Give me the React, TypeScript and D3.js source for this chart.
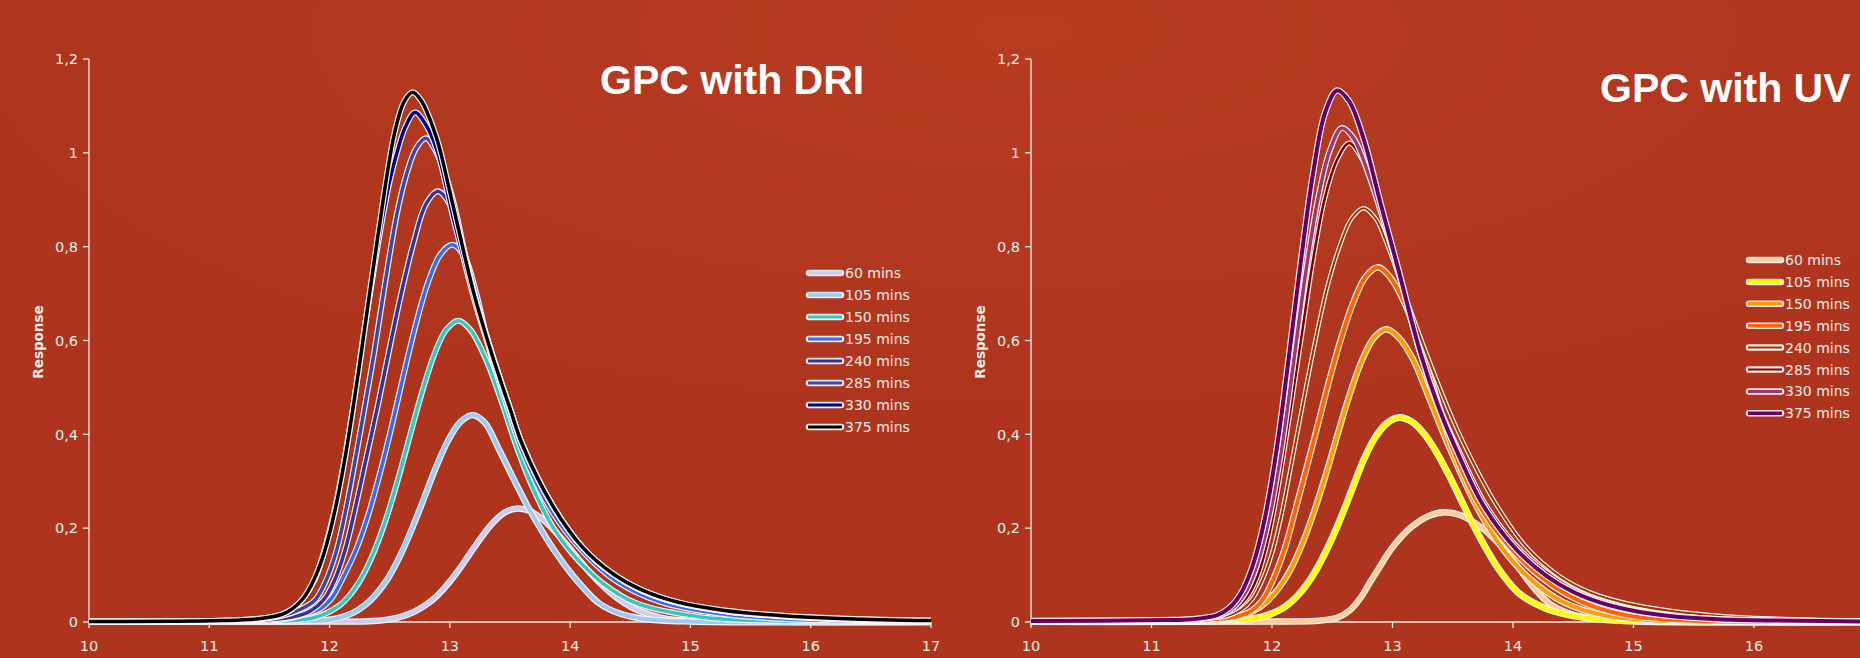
import * as React from 'react';
import * as d3 from 'd3';

type Pt = [number, number];

// retention time (min) vs detector response
const xTicks = [10, 11, 12, 13, 14, 15, 16, 17];
const yTicks = [0, 0.2, 0.4, 0.6, 0.8, 1, 1.2];
const yTickLabels = ['0', '0,2', '0,4', '0,6', '0,8', '1', '1,2'];
const sampleLabels = ['60 mins', '105 mins', '150 mins', '195 mins', '240 mins', '285 mins', '330 mins', '375 mins'];

// DRI panel
const dri60: Pt[] = [[10, .001], [12, .001], [12.36, .002], [12.56, .009], [12.66, .017], [12.76, .03], [12.86, .048], [12.96, .074], [13.06, .106], [13.16, .143], [13.26, .18], [13.36, .212], [13.46, .234], [13.56, .242], [13.66, .237], [13.76, .221], [13.86, .197], [13.96, .168], [14.06, .137], [14.16, .107], [14.26, .08], [14.36, .057], [14.46, .039], [14.56, .025], [14.76, .009], [14.96, .003], [15.2, .001], [17, 0]];
const dri105: Pt[] = [[10, .001], [11.5, .001], [11.8, .002], [12.0, .005], [12.19, .019], [12.29, .035], [12.39, .06], [12.49, .095], [12.59, .143], [12.69, .202], [12.79, .267], [12.89, .333], [12.99, .389], [13.09, .427], [13.19, .441], [13.29, .425], [13.41, .367], [13.53, .305], [13.65, .245], [13.77, .192], [13.88, .148], [14.0, .106], [14.12, .07], [14.24, .04], [14.4, .019], [14.6, .007], [15.0, .001], [17, 0]];
const dri150: Pt[] = [[10, .001], [11.3, .001], [11.6, .002], [11.87, .009], [12.07, .033], [12.17, .058], [12.27, .096], [12.37, .15], [12.47, .22], [12.57, .305], [12.67, .399], [12.77, .491], [12.87, .57], [12.97, .623], [13.07, .642], [13.17, .623], [13.3, .56], [13.43, .47], [13.56, .37], [13.7, .28], [13.85, .205], [14.02, .145], [14.27, .083], [14.55, .04], [15.1, .01], [15.6, .003], [17, 0]];
const dri195: Pt[] = [[10, .001], [11.1, .002], [11.57, .004], [11.77, .014], [11.92, .028], [12.02, .052], [12.12, .099], [12.22, .154], [12.32, .227], [12.42, .318], [12.52, .421], [12.62, .532], [12.72, .637], [12.82, .725], [12.92, .783], [13.02, .804], [13.12, .78], [13.22, .70], [13.34, .57], [13.5, .44], [13.6, .365], [13.85, .235], [14.1, .152], [14.38, .088], [14.75, .043], [15.3, .016], [16, .004], [17, .001]];
const dri240: Pt[] = [[10, .001], [11.1, .002], [11.5, .005], [11.7, .011], [11.83, .022], [11.95, .047], [12.04, .088], [12.13, .154], [12.22, .25], [12.31, .355], [12.4, .46], [12.5, .585], [12.6, .705], [12.7, .81], [12.8, .89], [12.9, .918], [13.0, .89], [13.1, .81], [13.2, .70], [13.35, .572], [13.5, .455], [13.6, .38], [13.85, .25], [14.1, .16], [14.35, .103], [14.6, .066], [14.9, .04], [15.3, .022], [15.74, .012], [16.3, .005], [17, .002]];
const dri285: Pt[] = [[10, .001], [11.1, .002], [11.45, .006], [11.62, .014], [11.75, .026], [11.88, .047], [11.97, .088], [12.06, .154], [12.14, .245], [12.22, .355], [12.3, .47], [12.37, .573], [12.46, .72], [12.56, .87], [12.64, .955], [12.72, 1.01], [12.8, 1.031], [12.88, 1.005], [12.96, .955], [13.04, .885], [13.12, .79], [13.2, .705], [13.35, .572], [13.5, .455], [13.6, .38], [13.85, .25], [14.1, .16], [14.35, .103], [14.6, .067], [14.9, .041], [15.3, .023], [15.74, .013], [16.3, .006], [17, .003]];
const dri330: Pt[] = [[10, .001], [11.1, .003], [11.4, .006], [11.58, .014], [11.68, .026], [11.78, .05], [11.88, .092], [11.97, .165], [12.06, .26], [12.17, .416], [12.3, .641], [12.38, .77], [12.45, .875], [12.5, .94], [12.56, 1.0], [12.63, 1.055], [12.71, 1.086], [12.8, 1.06], [12.9, 1.0], [13.02, .87], [13.1, .79], [13.2, .69], [13.35, .565], [13.5, .452], [13.6, .378], [13.85, .249], [14.1, .16], [14.35, .103], [14.6, .067], [14.9, .041], [15.3, .023], [15.74, .013], [16.3, .006], [17, .003]];
const dri375: Pt[] = [[10, .001], [11.1, .003], [11.41, .007], [11.6, .016], [11.69, .028], [11.78, .05], [11.87, .09], [11.96, .152], [12.05, .244], [12.14, .367], [12.25, .55], [12.4, .82], [12.54, 1.042], [12.62, 1.109], [12.69, 1.129], [12.76, 1.112], [12.89, 1.031], [13.0, .917], [13.1, .806], [13.2, .70], [13.35, .57], [13.5, .455], [13.6, .38], [13.85, .25], [14.1, .16], [14.35, .104], [14.6, .068], [14.9, .042], [15.3, .024], [15.74, .014], [16.3, .007], [17, .003]];

// UV panel
const uv60: Pt[] = [[10, .001], [12, .001], [12.4, .003], [12.55, .01], [12.65, .026], [12.73, .05], [12.81, .083], [12.9, .12], [12.98, .152], [13.06, .178], [13.16, .203], [13.3, .226], [13.43, .234], [13.56, .228], [13.73, .203], [13.84, .178], [13.93, .154], [14.02, .125], [14.12, .09], [14.21, .062], [14.3, .04], [14.45, .02], [14.6, .01], [14.9, .003], [15.3, .001], [17, 0]];
const uv105: Pt[] = [[10, .001], [11.3, .001], [11.6, .003], [11.9, .01], [12.06, .025], [12.16, .043], [12.26, .07], [12.36, .108], [12.46, .157], [12.56, .215], [12.66, .28], [12.76, .345], [12.86, .395], [12.96, .425], [13.06, .436], [13.16, .427], [13.26, .402], [13.36, .364], [13.46, .317], [13.56, .265], [13.66, .212], [13.76, .164], [13.86, .121], [13.96, .086], [14.06, .059], [14.26, .03], [14.46, .015], [14.7, .006], [15.1, .001], [17, 0]];
const uv150: Pt[] = [[10, .001], [11.1, .002], [11.4, .003], [11.65, .0064], [11.85, .024], [11.95, .042], [12.05, .07], [12.15, .11], [12.25, .166], [12.35, .236], [12.45, .317], [12.55, .405], [12.65, .489], [12.75, .56], [12.85, .607], [12.95, .624], [13.05, .607], [13.17, .56], [13.3, .48], [13.48, .367], [13.7, .245], [13.92, .154], [14.15, .09], [14.42, .042], [14.78, .013], [15.2, .003], [15.8, .001], [17, 0]];
const uv195: Pt[] = [[10, .001], [11.1, .003], [11.45, .005], [11.7, .011], [11.83, .024], [11.93, .05], [12.02, .097], [12.11, .16], [12.19, .235], [12.28, .322], [12.38, .42], [12.48, .52], [12.58, .61], [12.68, .685], [12.78, .737], [12.88, .756], [12.98, .735], [13.1, .68], [13.25, .575], [13.38, .465], [13.5, .37], [13.74, .24], [14.0, .152], [14.22, .098], [14.45, .058], [14.7, .03], [14.95, .014], [15.3, .005], [15.8, .001], [17, 0]];
const uv240: Pt[] = [[10, .002], [11.1, .004], [11.4, .006], [11.62, .012], [11.74, .025], [11.84, .05], [11.93, .095], [12.01, .155], [12.08, .23], [12.16, .335], [12.26, .47], [12.36, .60], [12.46, .715], [12.56, .80], [12.66, .86], [12.76, .882], [12.86, .86], [12.94, .815], [13.02, .76], [13.17, .65], [13.33, .54], [13.47, .45], [13.62, .365], [13.85, .255], [14.11, .16], [14.39, .097], [14.65, .062], [14.94, .04], [15.3, .024], [15.72, .013], [16.3, .006], [17, .003]];
const uv285: Pt[] = [[10, .002], [11.1, .004], [11.35, .006], [11.55, .012], [11.68, .025], [11.79, .052], [11.88, .097], [11.96, .168], [12.04, .27], [12.14, .43], [12.24, .60], [12.34, .77], [12.44, .905], [12.54, .985], [12.64, 1.021], [12.74, .99], [12.84, .93], [12.94, .85], [13.05, .745], [13.24, .57], [13.4, .452], [13.55, .367], [13.78, .248], [14.06, .154], [14.32, .098], [14.55, .063], [14.8, .04], [15.1, .022], [15.4, .012], [15.8, .006], [16.3, .003], [17, .001]];
const uv330: Pt[] = [[10, .002], [11.1, .004], [11.38, .006], [11.58, .015], [11.68, .031], [11.78, .063], [11.88, .125], [11.98, .225], [12.08, .37], [12.18, .555], [12.28, .745], [12.38, .9], [12.48, 1.005], [12.58, 1.053], [12.68, 1.03], [12.8, .955], [12.92, .86], [13.05, .745], [13.23, .572], [13.38, .458], [13.53, .366], [13.75, .25], [14.03, .154], [14.28, .098], [14.5, .064], [14.72, .042], [15.0, .024], [15.3, .013], [15.7, .006], [16.2, .003], [17, .001]];
const uv375: Pt[] = [[10, .002], [11.1, .004], [11.34, .006], [11.54, .014], [11.64, .029], [11.74, .06], [11.84, .12], [11.94, .22], [12.04, .37], [12.14, .565], [12.24, .77], [12.34, .955], [12.44, 1.085], [12.54, 1.133], [12.64, 1.11], [12.76, 1.03], [12.9, .893], [13.05, .75], [13.23, .575], [13.38, .46], [13.53, .367], [13.75, .25], [14.03, .154], [14.28, .098], [14.5, .064], [14.72, .042], [15.0, .024], [15.3, .013], [15.7, .006], [16.2, .003], [17, .001]];

const driSeries = [dri60, dri105, dri150, dri195, dri240, dri285, dri330, dri375];
const uvSeries = [uv60, uv105, uv150, uv195, uv240, uv285, uv330, uv375];

const driColors = ['#ccccf6', '#9ecbf5', '#33c9c2', '#3468ff', '#333399', '#3c46a8', '#000088', '#000000'];
const uvColors = ['#ffcc9c', '#ffff00', '#ff9a00', '#ff6400', '#993300', '#800000', '#9a3a6e', '#660066'];
const driWidths = [4, 4, 3.5, 3.5, 3.5, 3.5, 3.5, 3.5];
const uvWidths = [4, 4.5, 4, 4, 2, 2.5, 3.5, 4];

const W = 1860;
const H = 658;
const TXT = '#f6ece8';
const tickFont = 'DejaVu Sans, Verdana, sans-serif';

function Panel(props: any) {
    const { left, right, series, colors, widths, title, titleX, titleY, legendX, legendY, legendStep, labelX } = props;
    const x = d3.scaleLinear().domain([10, 17]).range([left, right]);
    const y = d3.scaleLinear().domain([0, 1.2]).range([622, 59]);
    const line = d3.line<Pt>().x(d => x(d[0])).y(d => y(d[1])).curve(d3.curveCatmullRom.alpha(0.5));

    return (
        <g>
            {/* axes */}
            <line x1={x(10)} x2={x(10)} y1={y(1.2)} y2={y(0)} stroke={TXT} strokeWidth={1.3} />
            <line x1={x(10)} x2={Math.min(x(17), W)} y1={y(0)} y2={y(0)} stroke={TXT} strokeWidth={1.5} />
            {yTicks.map((t, i) => (
                <g key={'y' + i}>
                    <line x1={x(10) - 6} x2={x(10)} y1={y(t)} y2={y(t)} stroke={TXT} strokeWidth={1.3} />
                    <text x={x(10) - 11} y={y(t)} dy="0.36em" textAnchor="end" fill={TXT}
                        fontFamily={tickFont} fontSize={14.5}>{yTickLabels[i]}</text>
                </g>
            ))}
            {xTicks.filter(t => x(t) < W).map(t => (
                <g key={'x' + t}>
                    <line x1={x(t)} x2={x(t)} y1={y(0)} y2={y(0) + 6} stroke={TXT} strokeWidth={1.3} />
                    <text x={x(t)} y={651} textAnchor="middle" fill={TXT}
                        fontFamily={tickFont} fontSize={14.5}>{t}</text>
                </g>
            ))}
            <text transform={`translate(${labelX},342) rotate(-90)`} textAnchor="middle" dy="0.35em"
                fill={TXT} fontFamily={tickFont} fontWeight="bold" fontSize={13.5}>Response</text>

            {/* curves: white halo underneath, colour on top */}
            {series.map((s: Pt[], i: number) => (
                <g key={'s' + i}>
                    <path d={line(s) || ''} fill="none" stroke="#fbf4f2" strokeWidth={widths[i] + 2.4} strokeLinejoin="round" />
                    <path d={line(s) || ''} fill="none" stroke={colors[i]} strokeWidth={widths[i]} strokeLinejoin="round" />
                </g>
            ))}

            {/* legend */}
            {sampleLabels.map((lab, i) => {
                const ly = legendY + i * legendStep;
                return (
                    <g key={'l' + i}>
                        <line x1={legendX + 2} x2={legendX + 34} y1={ly} y2={ly} stroke="#f4eeee" strokeWidth={6.5} strokeLinecap="round" />
                        <line x1={legendX + 1} x2={legendX + 35} y1={ly} y2={ly} stroke={colors[i]} strokeWidth={Math.max(widths[i] - 0.5, 2)} />
                        <text x={legendX + 38} y={ly} dy="0.36em" fill={TXT} fontFamily={tickFont} fontSize={14}>{lab}</text>
                    </g>
                );
            })}

            <text x={titleX} y={titleY} fill="#ffffff" fontFamily="Liberation Sans, Arial, sans-serif"
                fontWeight="bold" fontSize={41}>{title}</text>
        </g>
    );
}

export default function App() {
    return (
        <svg width={W} height={H} viewBox={`0 0 ${W} ${H}`} style={{ position: 'absolute', left: 0, top: 0 }}>
            <defs>
                <radialGradient id="bg" cx="0.55" cy="0.05" r="0.6">
                    <stop offset="0" stopColor="#b73c22" />
                    <stop offset="1" stopColor="#ae341d" />
                </radialGradient>
            </defs>
            <rect width={W} height={H} fill="url(#bg)" />
            <Panel left={89} right={931} series={driSeries} colors={driColors} widths={driWidths}
                title="GPC with DRI" titleX={600} titleY={94} legendX={807} legendY={273} legendStep={22} labelX={38} />
            <Panel left={1031} right={1874.5} series={uvSeries} colors={uvColors} widths={uvWidths}
                title="GPC with UV" titleX={1600} titleY={102} legendX={1747} legendY={260} legendStep={21.9} labelX={980} />
        </svg>
    );
}
